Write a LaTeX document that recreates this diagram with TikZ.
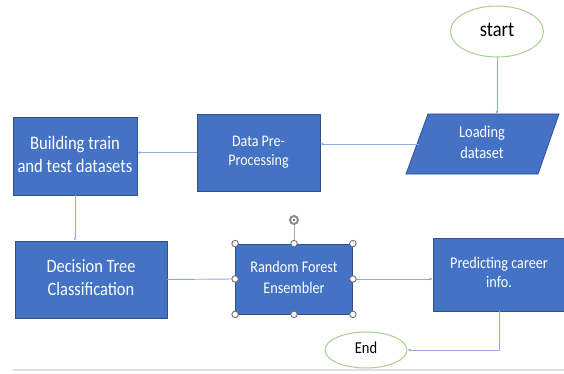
\documentclass[tikz,border=0pt]{standalone}
\usepackage{fontspec}
\setmainfont{Carlito}
\usetikzlibrary{arrows.meta,shapes.geometric}
\definecolor{boxblue}{HTML}{4472C4}
\definecolor{boxedge}{HTML}{2F528F}
\definecolor{linkblue}{HTML}{8FAADC}
\definecolor{ovalgreen}{HTML}{A9D18E}
\definecolor{handlegray}{HTML}{6F6F6F}
\newcommand{\vt}[3]{\scalebox{1}[1.15]{\fontsize{#1}{#2}\selectfont\begin{tabular}{@{}c@{}}#3\end{tabular}}}
\begin{document}
\begin{tikzpicture}[x=1pt,y=-1pt,
  box/.style={draw=boxedge, line width=0.8pt, fill=boxblue, text=white, align=center, inner sep=0pt},
  oval/.style={ellipse, draw=ovalgreen, line width=1pt, fill=white, text=black, inner sep=0pt},
  link/.style={draw=linkblue, line width=0.9pt},
  arr/.style={link, -{Latex[length=3pt,width=3pt]}},
  handle/.style={circle, draw=handlegray, fill=white, line width=0.9pt, minimum size=6.5pt, inner sep=0pt}]
\useasboundingbox (0,0) rectangle (564,374);
\fill[white] (0,0) rectangle (564,374);
% bottom gray rule
\draw[draw=black!12, line width=1.5pt] (13,370) -- (564,370);

% nodes
\node[oval, minimum width=93pt, minimum height=51pt] (start) at (497,31.5) {\vt{18.5}{20}{start}};
\draw[box] (406,174) -- (428,114) -- (559,114) -- (538,174) -- cycle;
\node[text=white, inner sep=0pt] (load) at (482,144) {\vt{14.4}{17.5}{Loading\\dataset}};
\coordinate (lt) at (498,114);
\coordinate (ll) at (419,144);
\node[box, minimum width=123pt, minimum height=77pt] (pre) at (258.5,152.5) {\vt{14}{16.5}{Data Pre-\\Processing}};
\node[box, minimum width=124pt, minimum height=78pt] (build) at (75,156) {\vt{16.6}{20}{Building train\\and test datasets}};
\node[box, minimum width=152pt, minimum height=77pt] (dec) at (91,279.5) {\vt{16.4}{20}{Decision Tree\\Classification}};
\node[box, minimum width=117pt, minimum height=70pt] (rf) at (294,279) {\vt{14.2}{17.5}{Random Forest\\Ensembler}};
\node[box, minimum width=132pt, minimum height=73pt] (pred) at (499,274.5) {\vt{14.2}{16.5}{Predicting career\\info.}};
\node[oval, minimum width=82pt, minimum height=36pt] (end) at (366,350) {\vt{14.5}{16}{End}};

% connectors
\draw[arr] (start.south) -- (start.south |- lt);
\draw[arr] (ll) -- (ll -| pre.east);
\draw[arr] (pre.west) -- (pre.west -| build.east);
\draw[arr] (build.south) -- (build.south |- dec.north);
\draw[link] (dec.east) -- (rf.west);
\draw[arr] (rf.east) -- (rf.east -| pred.west);
\draw[arr] (pred.south) |- (end.east);

% selection handles on Random Forest box
\coordinate (rot) at (294,220);
\draw[draw=handlegray!60, line width=0.7pt] (rf.north) -- (rot);
\node[circle, draw=handlegray!80, line width=2pt, minimum size=8pt, inner sep=0pt, fill=white] (rotc) at (rot) {};
\fill[handlegray] (rot) circle (1.3pt);
\foreach \a in {north west,north,north east,west,east,south west,south,south east}
  \node[handle] at (rf.\a) {};
\end{tikzpicture}
\end{document}
